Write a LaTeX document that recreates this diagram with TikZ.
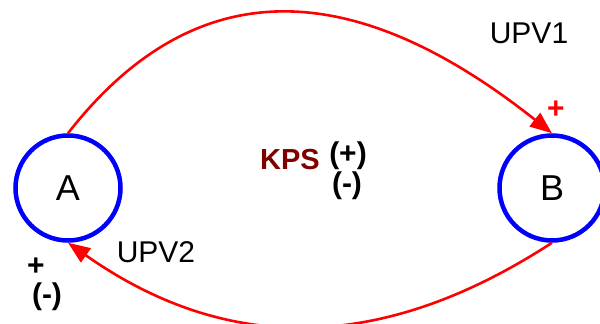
\documentclass[tikz,border=0pt]{standalone}
\usepackage{fontspec}
\setmainfont{Liberation Sans}
\usetikzlibrary{arrows.meta}
\definecolor{kpsred}{RGB}{128,0,0}
\begin{document}
\begin{tikzpicture}[x=1pt,y=-1pt,
  state/.style={circle,draw=blue,line width=4.5pt,minimum size=105pt,inner sep=0pt,font=\fontsize{36}{36}\selectfont},
  flow/.style={draw=red,line width=2.6pt,-{Triangle[length=22pt,width=17pt]}},
  lbl/.style={inner sep=0pt,font=\fontsize{30}{30}\selectfont},
  sign/.style={inner sep=0pt,font=\bfseries\fontsize{30}{30}\selectfont}]
  \clip (0,0) rectangle (600,324);
  % the two states
  \node[state] (A) at (68,188) {A};
  \node[state] (B) at (552,188) {B};
  % flows between them
  \draw[flow] (A.north) .. controls (193,-27) and (350,-27) .. (B.north);
  \draw[flow] (B.south) .. controls (381,354) and (226,354) .. (A.south);
  % labels
  \node[lbl] (upv1) at (529,33) {UPV1};
  \node[lbl] (upv2) at (156,252) {UPV2};
  \node[sign,text=kpsred,font=\bfseries\fontsize{29}{29}\selectfont] (kps) at (290,160) {KPS};
  \node[sign] (kplus) at (348,156) {(+)};
  \node[sign] (kminus) at (347,186) {(-)};
  \node[sign,text=red] (bplus) at (556,110) {+};
  \node[sign] (aplus) at (36,267) {+};
  \node[sign] (aminus) at (47,297) {(-)};
\end{tikzpicture}
\end{document}
